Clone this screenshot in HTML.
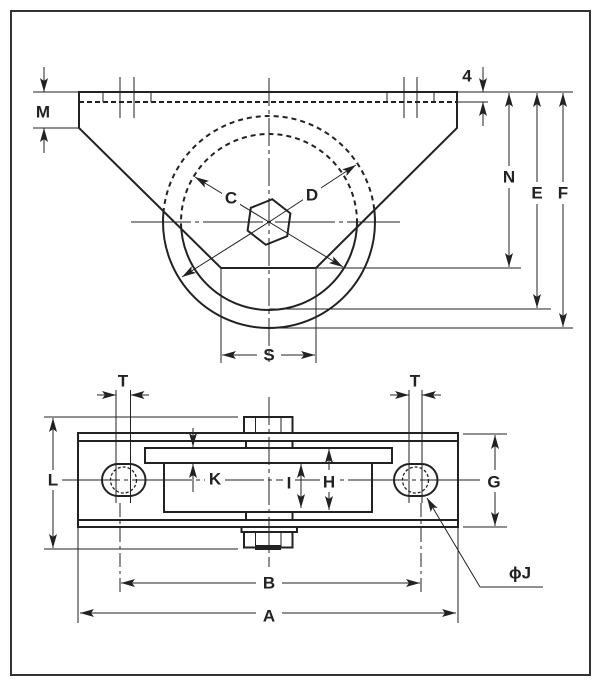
<!DOCTYPE html>
<html><head><meta charset="utf-8"><style>
html,body{margin:0;padding:0;background:#fff;width:600px;height:686px;overflow:hidden}
svg{display:block}
text{font-family:"Liberation Sans",sans-serif;font-weight:bold;font-size:17px;fill:#222;text-anchor:middle;dominant-baseline:central}
</style></head><body>
<svg width="600" height="686" viewBox="0 0 600 686" xmlns="http://www.w3.org/2000/svg">
<defs>
<marker id="a" viewBox="0 0 14 8" refX="14" refY="4" markerWidth="14" markerHeight="8" markerUnits="userSpaceOnUse" orient="auto"><path d="M0,0 L14,4 L0,8 L3,4z" fill="#222"/></marker>
<clipPath id="cin"><polygon points="79,92 457,92 457,128 316,268 221,268 79,128"/></clipPath>
<clipPath id="cout"><path clip-rule="evenodd" d="M0,0H600V686H0Z M79,92 L457,92 L457,128 L316,268 L221,268 L79,128Z"/></clipPath>
</defs>
<rect x="11" y="11" width="579" height="664" fill="none" stroke="#333" stroke-width="2"/>
<g fill="none" stroke="#222">
<!-- top view -->
<g stroke-width="1">
<line x1="269" y1="78" x2="269" y2="362" stroke-dasharray="28,4,4,4"/>
<line x1="131" y1="222" x2="400" y2="222" stroke-dasharray="60,4,4,4"/>
</g>
<g stroke-width="2">
<polygon points="79,92 457,92 457,128 316,268 221,268 79,128"/>
<line x1="79" y1="102" x2="457" y2="102" stroke-dasharray="5,3"/>
<g clip-path="url(#cin)" stroke-dasharray="5,4"><circle cx="269" cy="222" r="106"/><circle cx="269" cy="222" r="88"/></g>
<g clip-path="url(#cout)"><circle cx="269" cy="222" r="106"/><circle cx="269" cy="222" r="88"/></g>
<polygon points="269,199 289,210.5 289,233.5 269,245 249,233.5 249,210.5" transform="rotate(8 269 222)"/>
</g>
<g stroke-width="1">
<line x1="103" y1="92" x2="103" y2="102"/><line x1="151" y1="92" x2="151" y2="102"/>
<line x1="387" y1="92" x2="387" y2="102"/><line x1="434" y1="92" x2="434" y2="102"/>
<line x1="120" y1="77" x2="120" y2="118"/><line x1="134" y1="77" x2="134" y2="118"/>
<line x1="404" y1="77" x2="404" y2="118"/><line x1="417" y1="77" x2="417" y2="118"/>
<line x1="269" y1="222" x2="195" y2="177" marker-end="url(#a)"/>
<line x1="269" y1="222" x2="343" y2="267" marker-end="url(#a)"/>
<line x1="269" y1="222" x2="356" y2="165" marker-end="url(#a)"/>
<line x1="269" y1="222" x2="182" y2="277" marker-end="url(#a)"/>
<!-- dims top -->
<line x1="33" y1="92" x2="78" y2="92"/><line x1="33" y1="128" x2="78" y2="128"/>
<line x1="44" y1="67" x2="44" y2="92" marker-end="url(#a)"/>
<line x1="44" y1="153" x2="44" y2="128" marker-end="url(#a)"/>
<line x1="457" y1="92" x2="573" y2="92"/><line x1="457" y1="102" x2="488" y2="102"/>
<line x1="483" y1="67" x2="483" y2="92" marker-end="url(#a)"/>
<line x1="483" y1="126" x2="483" y2="102" marker-end="url(#a)"/>
<line x1="316" y1="268" x2="521" y2="268"/>
<line x1="269" y1="309" x2="551" y2="309"/>
<line x1="269" y1="328" x2="573" y2="328"/>
<line x1="509" y1="177" x2="509" y2="93" marker-end="url(#a)"/><line x1="509" y1="177" x2="509" y2="267" marker-end="url(#a)"/>
<line x1="537" y1="193" x2="537" y2="93" marker-end="url(#a)"/><line x1="537" y1="193" x2="537" y2="308" marker-end="url(#a)"/>
<line x1="563" y1="193" x2="563" y2="93" marker-end="url(#a)"/><line x1="563" y1="193" x2="563" y2="327" marker-end="url(#a)"/>
<line x1="221" y1="268" x2="221" y2="363"/><line x1="316" y1="268" x2="316" y2="363"/>
<line x1="257" y1="355" x2="222" y2="355" marker-end="url(#a)"/><line x1="281" y1="355" x2="315" y2="355" marker-end="url(#a)"/>
</g>
<!-- bottom view shapes -->
<g stroke-width="2">
<rect x="78" y="433" width="380" height="94" fill="#fff"/>
<line x1="78" y1="441" x2="458" y2="441"/><line x1="78" y1="520" x2="458" y2="520"/>
<rect x="244" y="417" width="48.5" height="16" fill="#fff"/>
<line x1="255.5" y1="417" x2="255.5" y2="433" stroke-width="1"/><line x1="281" y1="417" x2="281" y2="433" stroke-width="1"/>
<rect x="246" y="441" width="46.5" height="7"/>
<rect x="164" y="463" width="208" height="49" fill="#fff"/>
<rect x="145" y="448" width="247" height="15" fill="#fff"/>
<rect x="246" y="512" width="46.5" height="8"/>
<rect x="241.5" y="527" width="55.5" height="5" fill="#fff"/>
<rect x="244" y="532" width="48.5" height="15.5" fill="#fff"/>
<line x1="255.5" y1="532" x2="255.5" y2="547" stroke-width="1"/><line x1="281" y1="532" x2="281" y2="547" stroke-width="1"/>
<rect x="256" y="546" width="24" height="3" fill="#222"/>
<rect x="102" y="464" width="43.5" height="32" rx="16" fill="#fff"/>
<rect x="394" y="464" width="43.5" height="32" rx="16" fill="#fff"/>
</g>
<g stroke-width="1.3" stroke-dasharray="3,2">
<circle cx="123.5" cy="480" r="13"/><circle cx="415.5" cy="480" r="13"/>
</g>
<!-- bottom view dims -->
<g stroke-width="1">
<line x1="269" y1="397" x2="269" y2="567" stroke-dasharray="28,4,4,4"/>
<line x1="60" y1="480" x2="480" y2="480" stroke-dasharray="60,4,4,4"/>
<line x1="116" y1="390" x2="116" y2="503"/><line x1="130.5" y1="390" x2="130.5" y2="503"/>
<line x1="409" y1="390" x2="409" y2="503"/><line x1="422" y1="390" x2="422" y2="503"/>
<line x1="120" y1="503" x2="120" y2="593" stroke-dasharray="14,4,3,4"/>
<line x1="421" y1="503" x2="421" y2="593" stroke-dasharray="14,4,3,4"/>
<line x1="97" y1="395" x2="116" y2="395" marker-end="url(#a)"/><line x1="149" y1="395" x2="130.5" y2="395" marker-end="url(#a)"/>
<line x1="390" y1="395" x2="409" y2="395" marker-end="url(#a)"/><line x1="441" y1="395" x2="422" y2="395" marker-end="url(#a)"/>
<line x1="44" y1="417" x2="238" y2="417"/><line x1="44" y1="549" x2="238" y2="549"/>
<line x1="53" y1="470" x2="53" y2="418" marker-end="url(#a)"/><line x1="53" y1="490" x2="53" y2="548" marker-end="url(#a)"/>
<line x1="463" y1="434" x2="507" y2="434"/><line x1="463" y1="527" x2="507" y2="527"/>
<line x1="495" y1="470" x2="495" y2="435" marker-end="url(#a)"/><line x1="495" y1="492" x2="495" y2="526" marker-end="url(#a)"/>
<line x1="193" y1="428" x2="193" y2="447" marker-end="url(#a)"/><line x1="193" y1="492" x2="193" y2="464" marker-end="url(#a)"/>
<line x1="301" y1="486" x2="301" y2="464" marker-end="url(#a)"/><line x1="301" y1="486" x2="301" y2="508" marker-end="url(#a)"/>
<line x1="329" y1="470" x2="329" y2="449" marker-end="url(#a)"/><line x1="329" y1="492" x2="329" y2="510" marker-end="url(#a)"/>
<line x1="78" y1="527" x2="78" y2="623"/><line x1="458" y1="527" x2="458" y2="623"/>
<line x1="256" y1="583" x2="121" y2="583" marker-end="url(#a)"/><line x1="282" y1="583" x2="420" y2="583" marker-end="url(#a)"/>
<line x1="256" y1="613" x2="80" y2="613" marker-end="url(#a)"/><line x1="282" y1="613" x2="456" y2="613" marker-end="url(#a)"/>
<line x1="543" y1="587" x2="480" y2="587"/>
<line x1="480" y1="587" x2="427" y2="498" marker-end="url(#a)"/>
</g>
</g>
<g>
<rect x="222" y="188" width="18" height="20" fill="#fff"/><text x="231" y="198">C</text>
<rect x="303" y="185" width="18" height="20" fill="#fff"/><text x="312" y="195">D</text>
<text x="43" y="112">M</text><text x="467" y="76">4</text>
<rect x="500" y="166" width="18" height="22" fill="#fff"/><text x="509" y="177">N</text>
<rect x="528" y="182" width="18" height="22" fill="#fff"/><text x="537" y="193">E</text>
<rect x="554" y="182" width="18" height="22" fill="#fff"/><text x="563" y="193">F</text>
<text x="269" y="355">S</text>
<text x="123" y="381">T</text><text x="415" y="381">T</text>
<rect x="45" y="470" width="17" height="20" fill="#fff"/><text x="53" y="480">L</text>
<rect x="485" y="471" width="20" height="20" fill="#fff"/><text x="494" y="482">G</text>
<rect x="205" y="469" width="20" height="20" fill="#fff"/><text x="215" y="479">K</text>
<rect x="283" y="473" width="12" height="20" fill="#fff"/><text x="289" y="483">I</text>
<rect x="320" y="472" width="18" height="20" fill="#fff"/><text x="329" y="482">H</text>
<text x="269" y="583">B</text><text x="269" y="616">A</text>
<text x="520" y="573">ϕJ</text>
</g>
</svg>
</body></html>
